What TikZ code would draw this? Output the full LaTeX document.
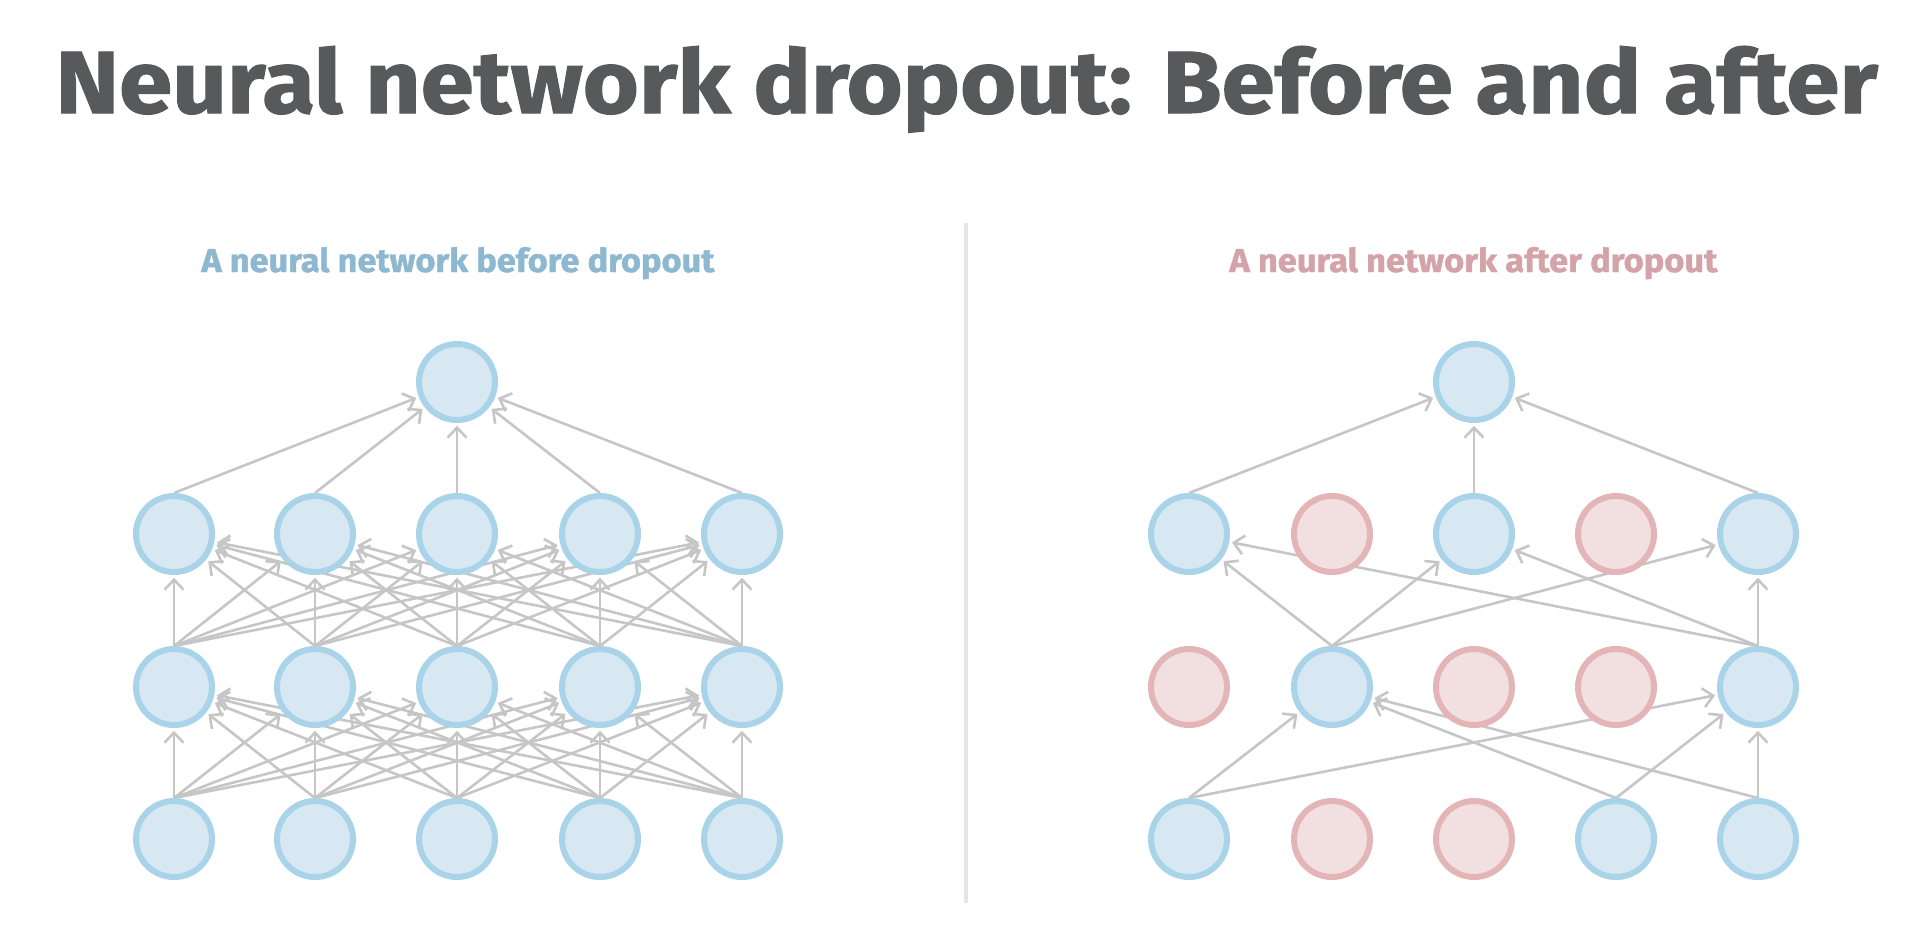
\documentclass[tikz,border=0pt]{standalone}
\usepackage{fontspec}
\setmainfont{Fira Sans}
\newfontfamily\heavyfont[FakeBold=1.2]{Fira Sans}
\usetikzlibrary{arrows.meta}
\definecolor{titlegray}{HTML}{58595B}
\definecolor{subblue}{HTML}{8DB8D0}
\definecolor{subpink}{HTML}{D4A3A8}
\definecolor{nodeblue}{HTML}{D8E8F3}
\definecolor{ringblue}{HTML}{A8D3E8}
\definecolor{nodepink}{HTML}{F2E0E0}
\definecolor{ringpink}{HTML}{E3B5B6}
\definecolor{edgegray}{HTML}{C6C6C6}
\definecolor{divgray}{HTML}{E6E6E6}
\pgfdeclarelayer{bg}
\pgfsetlayers{bg,main}
\tikzset{
  neuron/.style={circle, inner sep=0pt, minimum size=38pt, line width=3pt, draw=ringblue, fill=nodeblue},
  dropped/.style={neuron, draw=ringpink, fill=nodepink},
  edge/.style={draw=edgegray, line width=1.3pt, -{Straight Barb[length=5pt,width=9.5pt]}, shorten >=1.4pt},
  lbl/.style={inner sep=0pt, anchor=base west}
}
\begin{document}
\begin{tikzpicture}[x=0.5pt,y=-0.5pt]
\useasboundingbox (0,0) rectangle (1930,926);
% titles
\node[lbl, text=titlegray] (title) at (55,113) {\resizebox{911pt}{33.5pt}{\heavyfont\bfseries Neural network dropout: Before and after}};
\node[lbl, text=subblue] (subL) at (201,272) {\resizebox{256.5pt}{12.5pt}{\heavyfont\bfseries A neural network before dropout}};
\node[lbl, text=subpink] (subR) at (1229,272) {\resizebox{244pt}{12.5pt}{\heavyfont\bfseries A neural network after dropout}};
% divider
\coordinate (d1) at (966,223);
\coordinate (d2) at (966,903);
\draw[divgray, line width=1.8pt] (d1) -- (d2);
% left network
\node[neuron] (Lt) at (457,382) {};
\foreach \i/\x in {1/174,2/315,3/457,4/600,5/742} {
  \node[neuron] (La\i) at (\x,534) {};
  \node[neuron] (Lb\i) at (\x,687) {};
  \node[neuron] (Lc\i) at (\x,839) {};
}
% right network
\node[neuron] (Rt) at (1474,382) {};
\node[neuron]  (Ra1) at (1189,534) {};
\node[dropped] (Ra2) at (1332,534) {};
\node[neuron]  (Ra3) at (1474,534) {};
\node[dropped] (Ra4) at (1616,534) {};
\node[neuron]  (Ra5) at (1758,534) {};
\node[dropped] (Rb1) at (1189,687) {};
\node[neuron]  (Rb2) at (1332,687) {};
\node[dropped] (Rb3) at (1474,687) {};
\node[dropped] (Rb4) at (1616,687) {};
\node[neuron]  (Rb5) at (1758,687) {};
\node[neuron]  (Rc1) at (1189,839) {};
\node[dropped] (Rc2) at (1332,839) {};
\node[dropped] (Rc3) at (1474,839) {};
\node[neuron]  (Rc4) at (1616,839) {};
\node[neuron]  (Rc5) at (1758,839) {};
\begin{pgfonlayer}{bg}
  \foreach \i in {1,...,5} {
    \draw[edge] (La\i.north) -- (Lt);
    \foreach \j in {1,...,5} {
      \draw[edge] (Lb\i.north) -- (La\j);
      \draw[edge] (Lc\i.north) -- (Lb\j);
    }
  }
  \foreach \i in {1,3,5} {\draw[edge] (Ra\i.north) -- (Rt);}
  \foreach \i in {2,5} {\foreach \j in {1,3,5} {\draw[edge] (Rb\i.north) -- (Ra\j);}}
  \foreach \i in {1,4,5} {\foreach \j in {2,5} {\draw[edge] (Rc\i.north) -- (Rb\j);}}
\end{pgfonlayer}
\end{tikzpicture}
\end{document}
